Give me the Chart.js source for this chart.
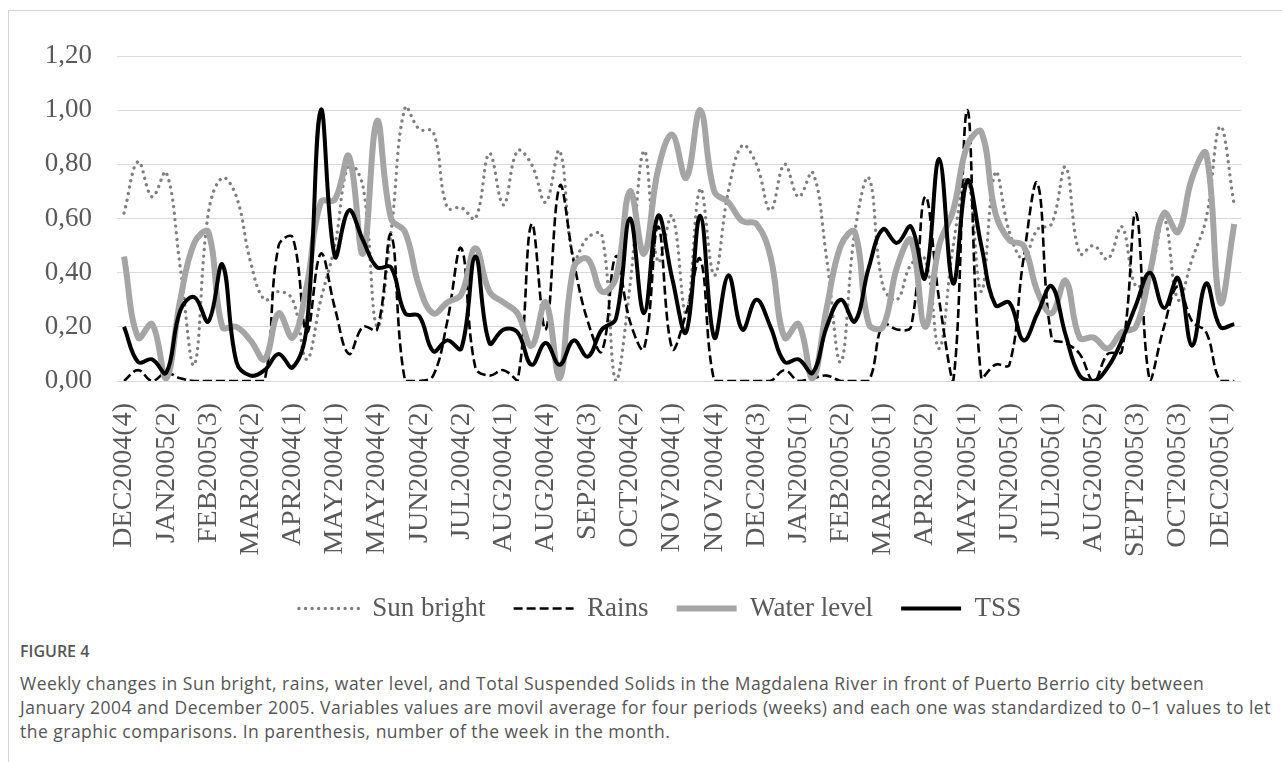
<!DOCTYPE html>
<html>
<head>
<meta charset="utf-8">
<script src="https://cdn.jsdelivr.net/npm/chart.js@4.4.1/dist/chart.umd.min.js"></script>
<style>
  body { margin: 0; background: #fff; width: 1282px; height: 762px; overflow: hidden; position: relative; }
  .frame { position: absolute; left: 8px; top: 10px; right: 0; bottom: 0; border-top: 1px solid #d4d4d4; border-left: 1px solid #d4d4d4; }
  #chartBox { position: absolute; left: 0; top: 0; width: 1282px; height: 640px; }
  .fig { position: absolute; left: 20px; top: 640px; font-family: "Open Sans", sans-serif; color: #555; }
  .fig h4 { margin: 0 0 9px 0; font-size: 16px; font-weight: 600; }
  .fig p { margin: 0; font-size: 17.5px; line-height: 24px; letter-spacing: 0.48px; white-space: nowrap; }
</style>
</head>
<body>
<div class="frame"></div>
<div id="chartBox"><canvas id="weekChart" width="1282" height="640"></canvas></div>
<div class="fig">
  <h4>FIGURE 4</h4>
  <p>Weekly changes in Sun bright, rains, water level, and Total Suspended Solids in the Magdalena River in front of Puerto Berrio city between<br>January 2004 and December 2005. Variables values are movil average for four periods (weeks) and each one was standardized to 0–1 values to let<br>the graphic comparisons. In parenthesis, number of the week in the month.</p>
</div>
<script>
// labelled weeks (one every third point)
var tickLabels = ['DEC2004(4)', 'JAN2005(2)', 'FEB2005(3)', 'MAR2004(2)', 'APR2004(1)', 'MAY2004(1)', 'MAY2004(4)',
  'JUN2004(2)', 'JUL2004(2)', 'AUG2004(1)', 'AUG2004(4)', 'SEP2004(3)', 'OCT2004(2)', 'NOV2004(1)', 'NOV2004(4)',
  'DEC2004(3)', 'JAN2005(1)', 'FEB2005(2)', 'MAR2005(1)', 'APR2005(2)', 'MAY2005(1)', 'JUN2005(1)', 'JUL2005(1)',
  'AUG2005(2)', 'SEPT2005(3)', 'OCT2005(3)', 'DEC2005(1)'];

var sunBright = [0.62, 0.81, 0.68, 0.77, 0.42, 0.06, 0.62, 0.75, 0.68, 0.44, 0.30, 0.33, 0.30, 0.08, 0.30, 0.50,
  0.80, 0.72, 0.20, 0.55, 1.01, 0.93, 0.92, 0.64, 0.64, 0.60, 0.84, 0.65, 0.85, 0.80, 0.66, 0.85, 0.45, 0.53, 0.54,
  0.00, 0.35, 0.85, 0.44, 0.61, 0.25, 0.71, 0.39, 0.70, 0.87, 0.80, 0.63, 0.80, 0.68, 0.77, 0.45, 0.07, 0.55, 0.75,
  0.35, 0.30, 0.43, 0.45, 0.12, 0.50, 0.75, 0.33, 0.77, 0.55, 0.45, 0.56, 0.58, 0.79, 0.47, 0.50, 0.45, 0.57, 0.35,
  0.40, 0.60, 0.30, 0.45, 0.60, 0.94, 0.65];

var rains = [0.00, 0.04, 0.00, 0.03, 0.01, 0.00, 0.00, 0.00, 0.00, 0.00, 0.00, 0.50, 0.53, 0.18, 0.47, 0.27, 0.10,
  0.20, 0.19, 0.54, 0.00, 0.00, 0.02, 0.22, 0.49, 0.05, 0.02, 0.04, 0.00, 0.58, 0.19, 0.72, 0.44, 0.22, 0.11, 0.46,
  0.22, 0.12, 0.57, 0.12, 0.25, 0.45, 0.00, 0.00, 0.00, 0.00, 0.00, 0.04, 0.00, 0.01, 0.02, 0.00, 0.00, 0.00, 0.21,
  0.19, 0.20, 0.68, 0.30, 0.00, 1.00, 0.01, 0.06, 0.06, 0.45, 0.73, 0.16, 0.14, 0.10, 0.00, 0.10, 0.11, 0.62, 0.00,
  0.20, 0.35, 0.22, 0.18, 0.00, 0.00];

var waterLevel = [0.46, 0.16, 0.21, 0.01, 0.30, 0.51, 0.55, 0.20, 0.20, 0.15, 0.08, 0.25, 0.16, 0.35, 0.66, 0.67,
  0.83, 0.47, 0.96, 0.60, 0.55, 0.35, 0.25, 0.29, 0.32, 0.49, 0.33, 0.29, 0.25, 0.13, 0.29, 0.01, 0.42, 0.45, 0.33,
  0.38, 0.70, 0.47, 0.78, 0.91, 0.75, 1.00, 0.70, 0.66, 0.59, 0.58, 0.46, 0.16, 0.21, 0.01, 0.27, 0.50, 0.55, 0.21,
  0.20, 0.42, 0.52, 0.20, 0.50, 0.63, 0.87, 0.92, 0.62, 0.52, 0.50, 0.33, 0.25, 0.37, 0.16, 0.16, 0.12, 0.18, 0.20,
  0.40, 0.62, 0.55, 0.75, 0.84, 0.29, 0.58];

var tss = [0.20, 0.07, 0.08, 0.03, 0.26, 0.31, 0.22, 0.43, 0.07, 0.02, 0.04, 0.10, 0.05, 0.20, 1.00, 0.46, 0.63,
  0.52, 0.42, 0.42, 0.25, 0.24, 0.11, 0.15, 0.12, 0.46, 0.14, 0.19, 0.18, 0.06, 0.14, 0.06, 0.15, 0.09, 0.19, 0.23,
  0.60, 0.25, 0.61, 0.38, 0.18, 0.61, 0.16, 0.39, 0.19, 0.30, 0.20, 0.07, 0.08, 0.03, 0.20, 0.30, 0.22, 0.42, 0.56,
  0.51, 0.57, 0.38, 0.82, 0.36, 0.74, 0.50, 0.28, 0.29, 0.15, 0.25, 0.35, 0.17, 0.02, 0.00, 0.05, 0.15, 0.28, 0.40,
  0.27, 0.38, 0.13, 0.36, 0.20, 0.21];

// one category per week; only every third one carries a label
var weeks = [];
for (var i = 0; i < tss.length; i++) {
    weeks.push(i % 3 === 0 ? tickLabels[i / 3] : '');
}

var serif = 'Liberation Serif';
var textGrey = '#595959';

// the legend sits a bit right of the canvas centre in the original
var nudgeLegend = {
    id: 'nudgeLegend',
    afterLayout: function (chart) {
        chart.legend.left += 30;
        chart.legend.right += 30;
    }
};

var ctx = document.getElementById('weekChart').getContext('2d');
var weekChart = new Chart(ctx, {
    type: 'line',
    data: {
        labels: weeks,
        datasets: [{
            label: 'Sun bright',
            data: sunBright,
            borderColor: '#7f7f7f',
            borderWidth: 3.3,
            borderDash: [0.1, 6.5],
            borderCapStyle: 'round',
            order: 4
        }, {
            label: 'Rains',
            data: rains,
            borderColor: '#000000',
            borderWidth: 2.6,
            borderDash: [9, 4],
            order: 3
        }, {
            label: 'Water level',
            data: waterLevel,
            borderColor: '#a5a5a5',
            borderWidth: 6,
            order: 2
        }, {
            label: 'TSS',
            data: tss,
            borderColor: '#000000',
            borderWidth: 4,
            order: 1
        }]
    },
    plugins: [nudgeLegend],
    options: {
        responsive: false,
        animation: false,
        devicePixelRatio: 1,
        layout: { padding: { top: 56, right: 22, bottom: 8, left: 0 } },
        elements: {
            point: { radius: 0, hoverRadius: 0 },
            line: { tension: 0.4, fill: false }
        },
        scales: {
            x: {
                offset: true,
                grid: { display: false },
                border: { display: false },
                ticks: {
                    autoSkip: false,
                    minRotation: 90,
                    maxRotation: 90,
                    padding: 14,
                    color: textGrey,
                    font: { family: serif, size: 28 }
                },
                afterFit: function (scale) { scale.height = 186; }
            },
            y: {
                min: 0,
                max: 1.2,
                grid: { color: '#d9d9d9', lineWidth: 1, drawTicks: false },
                border: { display: false },
                ticks: {
                    stepSize: 0.2,
                    padding: 25,
                    color: textGrey,
                    font: { family: serif, size: 27 },
                    callback: function (v) { return v.toFixed(2).replace('.', ','); }
                },
                afterFit: function (scale) { scale.width = 117; }
            }
        },
        plugins: {
            legend: {
                position: 'bottom',
                labels: {
                    usePointStyle: true,
                    pointStyleWidth: 60,
                    padding: 28,
                    color: textGrey,
                    font: { family: serif, size: 27 },
                    // line samples carry each series' own dash and width
                    generateLabels: function (chart) {
                        return chart.data.datasets.map(function (ds, i) {
                            return {
                                text: ds.label,
                                datasetIndex: i,
                                strokeStyle: ds.borderColor,
                                fillStyle: ds.borderColor,
                                lineWidth: ds.borderWidth,
                                lineDash: ds.borderDash || [],
                                lineCap: ds.borderCapStyle || 'butt',
                                pointStyle: 'line',
                                fontColor: textGrey,
                                hidden: false
                            };
                        });
                    }
                }
            },
            tooltip: { enabled: false }
        }
    }
});
</script>
</body>
</html>
